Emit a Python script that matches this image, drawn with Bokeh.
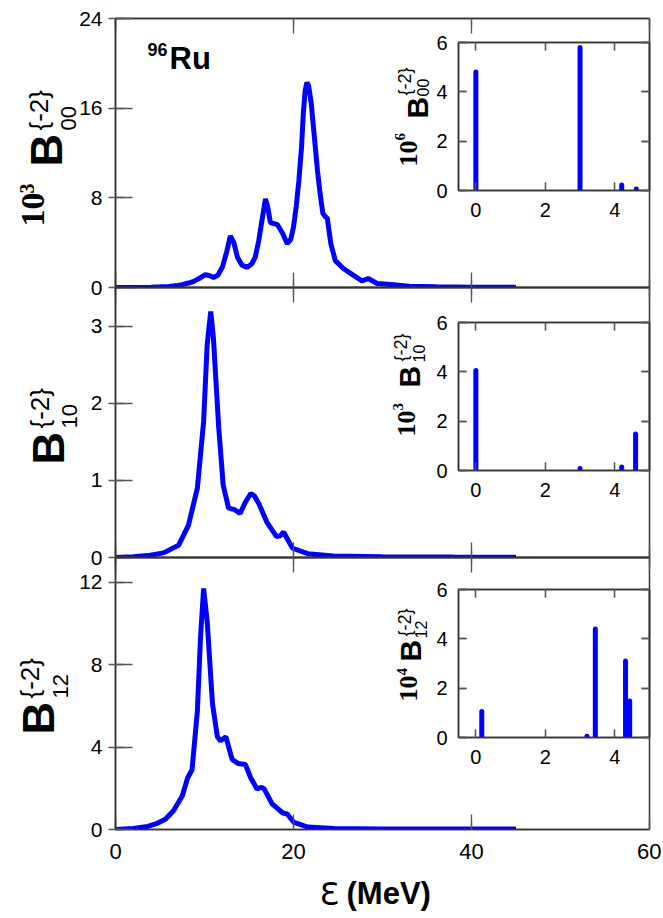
import math
from bokeh.plotting import figure
from bokeh.models import (Range1d, LinearAxis, SingleIntervalTicker, Label, GridBox,
                          CustomLabelingPolicy)
from bokeh.embed import file_html
from bokeh.resources import INLINE

# ---------------- data ----------------
# main panel 1: 10^3 B00 strength function
e1 = [0, 2, 4, 5, 6, 7, 7.5, 8.2, 8.8, 9.5,
      10.1, 10.6, 11.0, 11.5, 12.0, 12.5, 12.9, 13.3, 13.7, 14.2,
      14.8, 15.3, 15.7, 16.1, 16.5, 16.85, 17.1, 17.4, 17.8, 18.2,
      18.8, 19.3, 19.7, 20.0, 20.3, 20.6, 20.9, 21.1, 21.3, 21.5,
      21.7, 22.0, 22.3, 22.7, 23.0, 23.3, 23.6, 23.8, 24.0, 24.2,
      24.7, 25.6, 26.7, 27.7, 28.4, 29.4, 30.9, 33, 36, 40,
      45]
b00 = [0, 0.01, 0.03, 0.06, 0.1, 0.18, 0.25, 0.4, 0.55, 0.85,
       1.15, 1.05, 0.9, 1.1, 1.8, 3.2, 4.6, 4.0, 2.7, 2.0,
       1.8, 2.1, 2.7, 4.2, 6.2, 7.9, 7.2, 5.8, 5.7, 5.6,
       4.8, 3.9, 4.3, 5.4, 7.2, 9.5, 12.5, 15.5, 17.5, 18.3,
       18.0, 16.4, 13.8, 10.4, 8.3, 6.6, 6.3, 6.2, 5.0, 3.9,
       2.4, 1.7, 1.1, 0.6, 0.8, 0.36, 0.27, 0.12, 0.06, 0.03,
       0.02]
# main panel 2: B10
e2 = [0, 2, 3.9, 5.4, 7.1, 8.2, 9.2, 9.9, 10.3, 10.7,
      11.0, 11.6, 12.1, 12.7, 13.4, 14.0, 14.6, 15.2, 15.6, 16.1,
      17.0, 18.1, 18.5, 18.9, 19.4, 19.9, 21.6, 24.5, 30, 38,
      45]
b10 = [0.0, 0.01, 0.03, 0.06, 0.16, 0.42, 0.9, 1.76, 2.76, 3.19,
       2.85, 1.68, 0.94, 0.64, 0.62, 0.57, 0.72, 0.83, 0.8, 0.7,
       0.46, 0.27, 0.28, 0.33, 0.22, 0.12, 0.05, 0.02, 0.01, 0.005,
       0.003]
# main panel 3: B12
e3 = [0, 2, 3.6, 4.7, 5.6, 6.5, 7.5, 8.1, 8.6, 9.2,
      9.55, 9.9, 10.3, 10.9, 11.45, 11.8, 12.4, 13.1, 13.8, 14.6,
      15.2, 15.9, 16.4, 16.7, 17.6, 18.8, 19.3, 20.0, 21.6, 24.5,
      30, 38, 45]
b12 = [0, 0.05, 0.15, 0.3, 0.5, 0.9, 1.63, 2.5, 2.9, 5.75,
       9.3, 11.7, 10.1, 6.1, 4.5, 4.3, 4.5, 3.4, 3.2, 3.15,
       2.5, 1.97, 2.05, 1.97, 1.24, 0.8, 0.75, 0.36, 0.12, 0.05,
       0.03, 0.02, 0.02]
# insets: discrete low-lying strengths
ins1_e = [0.0, 3.0, 4.2, 4.62]
ins1_b = [4.8, 5.8, 0.22, 0.06]
ins2_e = [0.0, 3.0, 4.2, 4.6]
ins2_b = [4.05, 0.08, 0.14, 1.48]
ins3_e = [0.17, 3.2, 3.44, 4.31, 4.43]
ins3_b = [1.05, 0.05, 4.4, 3.1, 1.48]

x_ticks_main = 20
y_ticks_main = [8, 1, 4]

assert len(e1) == len(b00) and len(e2) == len(b10) and len(e3) == len(b12)

# ---------------- style ----------------
BLUE = "#0000ff"
AX = "#333333"
TICK = "#555555"
SANS = "Liberation Sans"
SERIF = "Liberation Serif"

FW = 653  # main figure width
LB = 107  # left border
RB = 12
K = 0.37  # baseline correction (fraction of font size)

NO_LABELS = CustomLabelingPolicy(code="""
const n = indices.size
for (let i = 0; i < n; i++) { indices.unset(i) }
return indices
""")


def style_axis(ax, interval, minor, show_labels, size="21px", tin=15, tout=0,
               min_in=8, standoff=6):
    ax.ticker = SingleIntervalTicker(interval=interval, num_minor_ticks=minor)
    ax.axis_line_color = AX
    ax.axis_line_width = 1.5
    ax.major_tick_line_color = TICK
    ax.minor_tick_line_color = TICK
    ax.major_tick_line_width = 1.3
    ax.minor_tick_line_width = 1.3
    ax.major_tick_in = tin
    ax.major_tick_out = tout
    ax.minor_tick_in = min_in
    ax.minor_tick_out = 0
    if show_labels:
        ax.major_label_text_font = SANS
        ax.major_label_text_font_size = size
        ax.major_label_text_color = "black"
        ax.major_label_standoff = standoff
    else:
        ax.major_label_policy = NO_LABELS
        ax.major_label_text_font_size = "1px"
        ax.major_label_standoff = 0


def transparent(p):
    p.grid.visible = False
    p.background_fill_alpha = 0
    p.border_fill_alpha = 0


def main_fig(h, top, bottom, ymax, yint, xlabels=False):
    p = figure(width=FW, height=h, x_range=Range1d(0, 60), y_range=Range1d(0, ymax),
               output_backend="svg", toolbar_location=None,
               x_axis_location=None, y_axis_location=None,
               min_border_left=LB, min_border_right=RB,
               min_border_top=top, min_border_bottom=bottom)
    transparent(p)
    p.outline_line_color = AX
    p.outline_line_width = 1.5
    yl = LinearAxis()
    style_axis(yl, yint, 1, True, size="21px", tin=17, tout=7, min_in=8, standoff=6)
    p.add_layout(yl, "left")
    xb = LinearAxis()
    style_axis(xb, x_ticks_main, 1, xlabels, size="22px", tin=15, tout=0, min_in=8, standoff=14)
    p.add_layout(xb, "below")
    xt = LinearAxis()
    style_axis(xt, x_ticks_main, 1, False, tin=15, tout=0, min_in=8)
    p.add_layout(xt, "above")
    return p


def inset_fig():
    p = figure(width=233, height=193, x_range=Range1d(-0.5, 5), y_range=Range1d(0, 6),
               output_backend="svg", toolbar_location=None,
               x_axis_location=None, y_axis_location=None,
               min_border_left=30, min_border_right=12, min_border_top=10,
               min_border_bottom=35)
    transparent(p)
    p.outline_line_color = AX
    p.outline_line_width = 1.5
    for loc, lab in (("left", True), ("below", True), ("above", False), ("right", False)):
        ax = LinearAxis()
        style_axis(ax, 2, 1, lab, size="20px", tin=8, tout=0, min_in=8,
                   standoff=11 if loc == "left" else 12)
        p.add_layout(ax, loc)
    return p


# ---------------- panels ----------------
p1 = main_fig(291, 10, 12, 24, y_ticks_main[0])
p1.line(e1, b00, line_width=5, color=BLUE)

p2 = main_fig(294, 12, 12, 3.5, y_ticks_main[1])
p2.line(e2, b10, line_width=5, color=BLUE)

p3 = main_fig(368, 12, 84, 13.2, y_ticks_main[2], xlabels=True)
p3.line(e3, b12, line_width=5, color=BLUE)

i1 = inset_fig()
i1.segment(x0=ins1_e, y0=[0] * len(ins1_e), x1=ins1_e, y1=ins1_b, line_width=5,
           line_cap="round", color=BLUE)
i2 = inset_fig()
i2.segment(x0=ins2_e, y0=[0] * len(ins2_e), x1=ins2_e, y1=ins2_b, line_width=5,
           line_cap="round", color=BLUE)
i3 = inset_fig()
i3.segment(x0=ins3_e, y0=[0] * len(ins3_e), x1=ins3_e, y1=ins3_b, line_width=5,
           line_cap="round", color=BLUE)

# ---------------- text overlay (page pixel space) ----------------
OV_W, OV_H = 662, 917
ov = figure(width=OV_W, height=OV_H, x_range=Range1d(0, OV_W), y_range=Range1d(OV_H, 0),
            output_backend="svg", toolbar_location=None,
            x_axis_location=None, y_axis_location=None, min_border=0)
transparent(ov)
ov.outline_line_color = None


def vlabel(parts):
    for text, font, size, style, bx, by in parts:
        ov.add_layout(Label(x=bx - K * size, y=by, text=text, angle=math.pi / 2,
                            text_font=font, text_font_size=f"{size}px",
                            text_font_style=style, text_align="left",
                            text_baseline="alphabetic", text_color="black"))


def hlabel(text, font, size, style, x, by):
    ov.add_layout(Label(x=x, y=by - K * size, text=text, text_font=font,
                        text_font_size=f"{size}px", text_font_style=style,
                        text_align="left", text_baseline="alphabetic",
                        text_color="black"))


# main y-axis titles
vlabel([("10", SERIF, 34, "bold", 45, 226), ("3", SERIF, 20, "bold", 34, 193),
        ("B", SANS, 45, "bold", 63, 166), ("00", SANS, 22, "normal", 76, 130),
        ("{-2}", SANS, 26, "normal", 48, 130)])
vlabel([("B", SANS, 45, "bold", 65, 464), ("10", SANS, 22, "normal", 77, 428),
        ("{-2}", SANS, 26, "normal", 49, 428)])
vlabel([("B", SANS, 45, "bold", 55, 734), ("12", SANS, 22, "normal", 68, 698),
        ("{-2}", SANS, 26, "normal", 39, 698)])
# inset y-axis titles
vlabel([("10", SERIF, 26, "bold", 418, 166), ("6", SERIF, 15, "bold", 405, 140),
        ("B", SANS, 30, "bold", 428, 118), ("00", SANS, 16, "normal", 428, 96),
        ("{-2}", SANS, 18, "normal", 411, 95)])
vlabel([("10", SERIF, 26, "bold", 416, 436), ("3", SERIF, 15, "bold", 403, 410),
        ("B", SANS, 30, "bold", 420, 387), ("10", SANS, 16, "normal", 424, 362),
        ("{-2}", SANS, 18, "normal", 407, 361)])
vlabel([("10", SERIF, 26, "bold", 418, 701), ("4", SERIF, 15, "bold", 407, 675),
        ("B", SANS, 30, "bold", 421, 661), ("12", SANS, 16, "normal", 426, 638),
        ("{-2}", SANS, 18, "normal", 411, 636)])
# nucleus tag
hlabel("96", SANS, 18, "bold", 147, 56)
hlabel("Ru", SANS, 31, "bold", 169, 69)
# x-axis title
hlabel("Ɛ", "DejaVu Sans", 32, "normal", 319, 905)
hlabel("(MeV)", SANS, 31, "bold", 346, 904)

rows = [8, 24, 193, 50, 24, 13, 193, 40, 24, 10, 193, 141, 4]
grid = GridBox(children=[(p1, 1, 1, 4, 2), (p2, 4, 1, 5, 2), (p3, 8, 1, 4, 2),
                         (i1, 2, 2), (i2, 6, 2), (i3, 10, 2),
                         (ov, 0, 0, 13, 4)],
               rows=[f"{r}px" for r in rows], cols=["8px", "420px", "233px", "1px"],
               spacing=0)

open("out.html", "w").write(file_html(grid, INLINE))
